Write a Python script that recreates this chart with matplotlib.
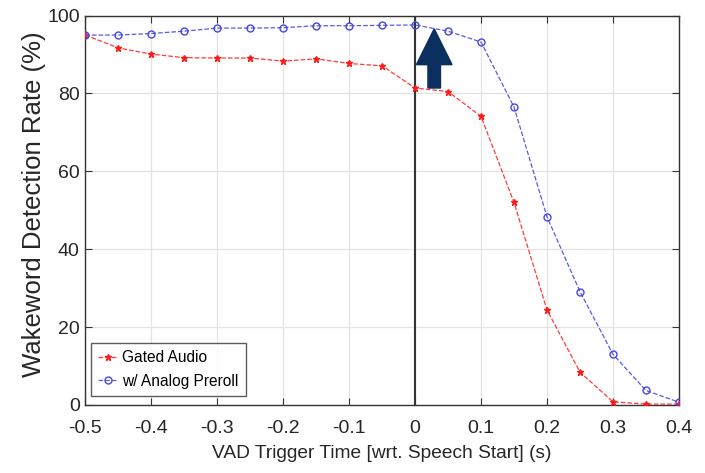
import matplotlib
matplotlib.use("Agg")
import matplotlib.pyplot as plt

# VAD trigger time (s) relative to speech start
t = [-0.5, -0.45, -0.4, -0.35, -0.3, -0.25, -0.2, -0.15, -0.1, -0.05,
     0.0, 0.05, 0.1, 0.15, 0.2, 0.25, 0.3, 0.35, 0.4]
gated = [95.0, 91.7, 90.1, 89.2, 89.1, 89.1, 88.3, 88.9, 87.7, 87.1,
         81.4, 80.5, 74.1, 52.0, 24.4, 8.4, 0.8, 0.2, 0.2]
preroll = [95.0, 95.0, 95.4, 96.0, 96.8, 96.8, 96.9, 97.4, 97.4, 97.5,
           97.6, 96.0, 93.2, 76.5, 48.3, 29.1, 13.0, 3.7, 0.7]
labels = ["Gated Audio", "w/ Analog Preroll"]

FONT = ["Liberation Sans Narrow", "Liberation Sans", "DejaVu Sans"]
plt.rcParams["font.family"] = FONT
TXT = "#262626"

fig = plt.figure(figsize=(7.05, 4.73), dpi=100)
ax = fig.add_axes([0.121, 0.144, 0.842, 0.823])

ax.plot(t, gated, ls="--", lw=0.9, color="#ff3b3b", marker="*", ms=5,
        mec="#ff1a1a", mfc="#ff1a1a", label=labels[0], zorder=3)
ax.plot(t, preroll, ls="--", lw=0.9, color="#5a5ae8", marker="o", ms=5,
        mec="#4646e6", mfc="none", mew=1.0, label=labels[1], zorder=3)

ax.axvline(0, color="#333333", lw=1.5, zorder=2)

# highlight arrow
ax.arrow(0.029, 81.4, 0, 15.2, width=0.019, head_width=0.054, head_length=9.2,
         length_includes_head=True, fc="#0b2f5e", ec="#0b2f5e", zorder=4)

ax.set_xlim(-0.5, 0.4)
ax.set_ylim(0, 100)
ax.set_xticks([-0.5, -0.4, -0.3, -0.2, -0.1, 0, 0.1, 0.2, 0.3, 0.4])
ax.set_xticklabels(["-0.5", "-0.4", "-0.3", "-0.2", "-0.1", "0",
                    "0.1", "0.2", "0.3", "0.4"])
ax.set_yticks([0, 20, 40, 60, 80, 100])
ax.grid(True, color="#e3e3e3", lw=0.9)
ax.set_axisbelow(True)
ax.tick_params(direction="in", top=True, right=True, length=5,
               labelsize=14, colors="#333333", labelcolor=TXT)
ax.tick_params(axis="x", pad=11)
ax.tick_params(axis="y", pad=4)
for s in ax.spines.values():
    s.set_color("#333333")
    s.set_linewidth(1.0)

ax.set_xlabel("VAD Trigger Time [wrt. Speech Start] (s)", fontsize=13.8,
              color=TXT, labelpad=6)
ax.set_ylabel("Wakeword Detection Rate (%)", fontsize=18.5, color=TXT)
ax.yaxis.set_label_coords(-0.067, 0.516)

leg = ax.legend(loc="lower left", fontsize=11.2, frameon=True, fancybox=False,
                edgecolor="#333333", borderpad=0.45, handlelength=1.3,
                handletextpad=0.25, labelspacing=0.55, borderaxespad=0,
                bbox_to_anchor=(0.010, 0.023))
leg.get_frame().set_linewidth(1.0)

fig.savefig("out.png", dpi=100, facecolor="white")
